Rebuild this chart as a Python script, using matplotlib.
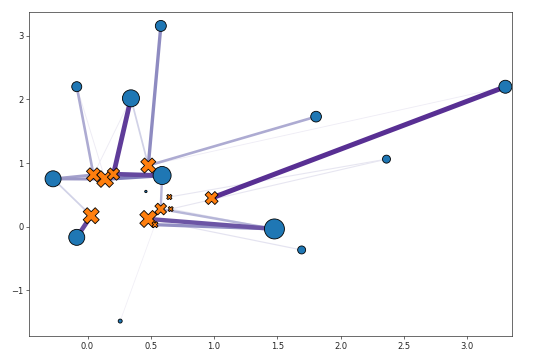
import matplotlib
matplotlib.use("Agg")
import matplotlib.pyplot as plt
import numpy as np

# Sample points (blue circles)
point_x = [-0.272, -0.085, -0.085, 0.343, 0.579, 0.589, 1.476, 1.805, 2.361, 1.691, 3.300, 0.258, 0.461]
point_y = [0.752, -0.168, 2.200, 2.017, 3.155, 0.804, -0.036, 1.729, 1.061, -0.366, 2.199, -1.484, 0.553]
point_s = [369, 369, 144, 416, 174, 467, 576, 165, 92, 92, 243, 23, 8]

# Centers (orange X)
center_x = [0.047, 0.139, 0.205, 0.480, 0.646, 0.657, 0.578, 0.480, 0.533, 0.029, 0.980]
center_y = [0.815, 0.748, 0.826, 0.961, 0.466, 0.277, 0.277, 0.121, 0.031, 0.172, 0.450]
center_s = [282, 400, 218, 324, 40, 36, 197, 416, 52, 369, 243]

# Links center -> point with weights
edge_src = [10, 2, 9, 7, 8, 6, 2, 1, 0, 1, 3, 3, 0, 6, 3, 9, 7, 4, 5, 3, 8, 1, 5, 0]
edge_dst = [10, 3, 1, 6, 6, 6, 5, 5, 0, 0, 4, 7, 2, 5, 3, 0, 9, 8, 8, 10, 11, 2, 6, 3]
edge_w = [1.0, 0.95, 0.9, 0.85, 0.6, 0.4, 0.9, 0.7, 0.5, 0.55, 0.62, 0.45, 0.45, 0.4,
          0.25, 0.25, 0.12, 0.1, 0.1, 0.04, 0.02, 0.05, 0.1, 0.05]

plt.rcParams['font.family'] = ['DejaVu Sans']
fig = plt.figure(figsize=(9.0, 6.0), dpi=60)
ax = fig.add_axes([0.0542, 0.0657, 0.8946, 0.9019])

cmap = plt.cm.Purples
order = np.argsort(edge_w)
for k in order:
    i, j, w = edge_src[k], edge_dst[k], edge_w[k]
    ax.plot([center_x[i], point_x[j]], [center_y[i], point_y[j]],
            color=cmap(0.1 + 0.75 * w), lw=0.8 + 5.2 * w, zorder=1,
            solid_capstyle='butt')

ax.scatter(point_x, point_y, s=point_s, c='#1f77b4', edgecolors='black',
           linewidths=1.0, zorder=2)
ax.scatter(center_x, center_y, s=center_s, c='#ff7f0e', marker='X',
           edgecolors='black', linewidths=1.0, zorder=3)

ax.set_xlim(-0.46, 3.355)
ax.set_ylim(-1.724, 3.379)
ax.set_xticks([0.0, 0.5, 1.0, 1.5, 2.0, 2.5, 3.0])
ax.set_yticks([-1, 0, 1, 2, 3])
for sp in ax.spines.values():
    sp.set_color('#262626')
ax.tick_params(colors='#262626', labelsize=10, length=3.5)

fig.savefig('out.png', dpi=60)
